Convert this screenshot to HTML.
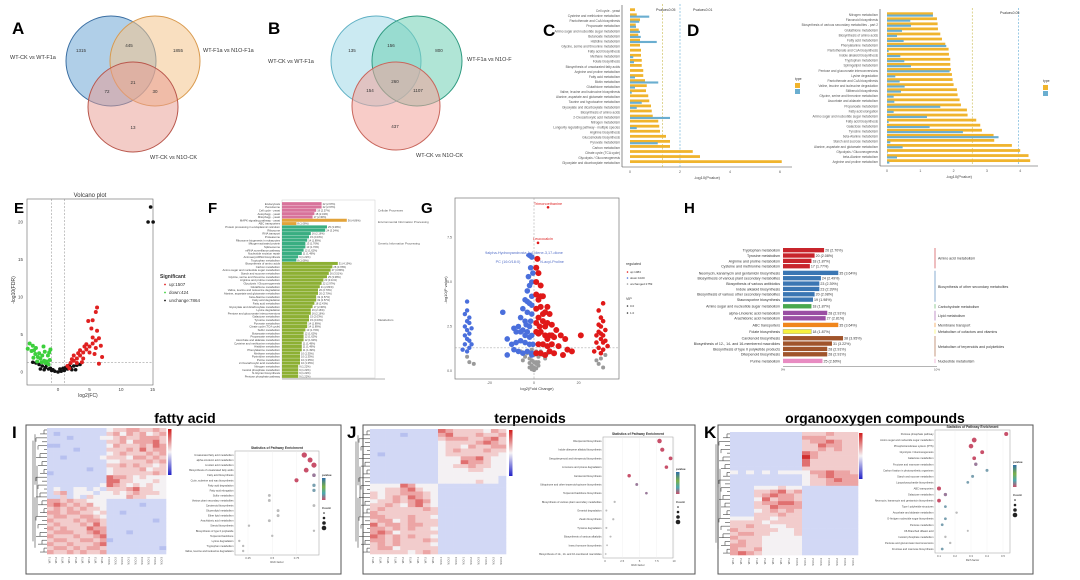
<!DOCTYPE html>
<html><head><meta charset="utf-8"><style>
html,body{margin:0;padding:0;background:#fff;width:1080px;height:580px;overflow:hidden}
svg{display:block;font-family:"Liberation Sans",sans-serif}
</style></head><body>
<svg id="fig" width="1080" height="580" viewBox="0 0 1080 580" xmlns="http://www.w3.org/2000/svg">
<!-- Venn A -->
<g>
<text x="12" y="34" font-size="17" font-weight="bold">A</text>
<circle cx="111" cy="61" r="45" fill="#6fa8d6" fill-opacity="0.55" stroke="#3b6fa3" stroke-width="1"/>
<circle cx="155" cy="61" r="45" fill="#f4c48c" fill-opacity="0.55" stroke="#d99a4e" stroke-width="1"/>
<circle cx="133" cy="107" r="45" fill="#e89a90" fill-opacity="0.5" stroke="#b9574c" stroke-width="1"/>
<g font-size="4.5" fill="#333" text-anchor="middle">
<text x="81" y="52">1315</text><text x="129" y="47">445</text><text x="178" y="52">1855</text>
<text x="133" y="84">21</text><text x="107" y="93">72</text><text x="155" y="93">30</text><text x="133" y="129">13</text></g>
<g font-size="5.5" fill="#333">
<text x="10" y="59">WT-CK vs WT-F1a</text><text x="203" y="52">WT-F1a vs N1O-F1a</text><text x="150" y="159">WT-CK vs N1O-CK</text></g>
</g>
<!-- Venn B -->
<g>
<text x="268" y="34" font-size="17" font-weight="bold">B</text>
<circle cx="376" cy="61" r="45" fill="#a9dcea" fill-opacity="0.6" stroke="#5fb0c4" stroke-width="1"/>
<circle cx="417" cy="61" r="45" fill="#6fcfb4" fill-opacity="0.55" stroke="#2f9a80" stroke-width="1"/>
<circle cx="396" cy="106" r="44" fill="#f2a39a" fill-opacity="0.55" stroke="#c8665c" stroke-width="1"/>
<g font-size="4.5" fill="#333" text-anchor="middle">
<text x="352" y="52">135</text><text x="391" y="47">156</text><text x="439" y="52">800</text>
<text x="395" y="83">260</text><text x="370" y="92">154</text><text x="418" y="92">1107</text><text x="395" y="128">437</text></g>
<g font-size="5.5" fill="#333">
<text x="268" y="63">WT-CK vs WT-F1a</text><text x="467" y="61">WT-F1a vs N1O-F</text><text x="416" y="157">WT-CK vs N1O-CK</text></g>
</g>
<text x="543" y="36" font-size="17" font-weight="bold">C</text>
<text x="687" y="36" font-size="17" font-weight="bold">D</text>
<text x="14" y="213" font-size="15" font-weight="bold">E</text>
<text x="208" y="213" font-size="15" font-weight="bold">F</text>
<text x="421" y="213" font-size="15" font-weight="bold">G</text>
<text x="684" y="213" font-size="15" font-weight="bold">H</text>
<text x="12" y="438" font-size="17" font-weight="bold">I</text>
<text x="347" y="438" font-size="17" font-weight="bold">J</text>
<text x="704" y="438" font-size="17" font-weight="bold">K</text>
<text x="185" y="423" font-size="14" font-weight="bold" text-anchor="middle">fatty acid</text>
<text x="530" y="423" font-size="14" font-weight="bold" text-anchor="middle">terpenoids</text>
<text x="875" y="423" font-size="14" font-weight="bold" text-anchor="middle">organooxygen compounds</text>
<rect x="26" y="425" width="315" height="149" fill="none" stroke="#555" stroke-width="1"/>
<rect x="363" y="425" width="332" height="149" fill="none" stroke="#555" stroke-width="1"/>
<rect x="718" y="425" width="315" height="149" fill="none" stroke="#555" stroke-width="1"/>
</svg>
<script>
const NS='http://www.w3.org/2000/svg';
const svg=document.getElementById('fig');
function el(tag,attrs,txt){const e=document.createElementNS(NS,tag);for(const k in attrs)e.setAttribute(k,attrs[k]);if(txt!==undefined)e.textContent=txt;svg.appendChild(e);return e;}

// ===== Panel C data =====
const cCats=["Cell cycle - yeast","Cysteine and methionine metabolism","Pantothenate and CoA biosynthesis","Propanoate metabolism","Amino sugar and nucleotide sugar metabolism","Butanoate metabolism","Histidine metabolism","Glycine, serine and threonine metabolism","Fatty acid biosynthesis","Methane metabolism","Folate biosynthesis","Biosynthesis of unsaturated fatty acids","Arginine and proline metabolism","Fatty acid metabolism","Biotin metabolism","Glutathione metabolism","Valine, leucine and isoleucine biosynthesis","Alanine, aspartate and glutamate metabolism","Taurine and hypotaurine metabolism","Glyoxylate and dicarboxylate metabolism","Biosynthesis of amino acids","2-Oxocarboxylic acid metabolism","Nitrogen metabolism","Longevity regulating pathway - multiple species","Arginine biosynthesis","Glucosinolate biosynthesis","Pyruvate metabolism","Carbon metabolism","Citrate cycle (TCA cycle)","Glycolysis / Gluconeogenesis","Glyoxylate and dicarboxylate metabolism"];
const cGene=[0.2,0.27,0.4,0.23,0.35,0.33,0.4,0.4,0.44,0.44,0.47,0.47,0.53,0.53,0.6,0.67,0.64,0.73,0.77,0.84,0.87,0.91,1.13,1.17,1.2,1.44,1.6,1.6,2.51,2.8,6.07];
const cMeta=[0,0.77,0.37,0.24,0.4,0.43,1.07,0,0,0.13,0.16,0,0,0.2,1.13,0.2,0.07,0,0.47,0.27,0,1.6,0,0.27,0,0,1.11,0,0,0,0];
const cTicks=[0,2,4,6];
const cThresh=[1.3,2];
// ===== Panel D data =====
const dCats=["Nitrogen metabolism","Flavonoid biosynthesis","Biosynthesis of various secondary metabolites - part 2","Glutathione metabolism","Biosynthesis of amino acids","Fatty acid metabolism","Phenylalanine metabolism","Pantothenate and CoA biosynthesis","Indole alkaloid biosynthesis","Tryptophan metabolism","Sphingolipid metabolism","Pentose and glucuronate interconversions","Lysine degradation","Pantothenate and CoA biosynthesis","Valine, leucine and isoleucine degradation","Stilbenoid biosynthesis","Glycine, serine and threonine metabolism","Ascorbate and aldarate metabolism","Propanoate metabolism","Fatty acid elongation","Amino sugar and nucleotide sugar metabolism","Fatty acid biosynthesis","Galactose metabolism","Tyrosine metabolism","beta-Alanine metabolism","Starch and sucrose metabolism","Alanine, aspartate and glutamate metabolism","Glycolysis / Gluconeogenesis","beta-Alanine metabolism","Arginine and proline metabolism"];
const dGene=[1.38,1.5,1.52,1.53,1.6,1.65,1.75,1.85,1.86,1.9,1.9,1.92,1.95,1.97,2.0,2.1,2.12,2.18,2.22,2.4,2.42,2.68,2.8,2.85,3.2,3.22,3.75,4.0,4.25,4.3];
const dMeta=[1.38,0.7,0.72,0.45,0.3,0.5,1.78,0.05,0.4,0.52,0.72,1.88,0.25,0.38,0.53,0.42,0.2,0.22,1.6,0.2,1.2,0.05,1.28,2.28,3.35,0.1,0.47,0.02,0.3,0.07];
const dTicks=[0,1,2,3,4];
const dThresh=[2.56,3.95];

function hbarPanel(p){
  const yax=el('line',{x1:p.axX,y1:p.top-3,x2:p.axX,y2:p.bottom+2,stroke:'#444','stroke-width':0.6});
  
  
  const xax=el('line',{x1:p.axX,y1:p.bottom+2,x2:p.right,y2:p.bottom+2,stroke:'#444','stroke-width':0.6});
  
  
  const n=p.cats.length, band=(p.bottom-p.top)/n;
  const sx=v=>p.x0+v*p.k;
  p.thresh.forEach((t,i)=>{
    const l=el('line',{x1:sx(t),y1:p.top-4,x2:sx(t),y2:p.bottom+2,stroke:i?'#5aa9d4':'#c8b84a','stroke-width':0.6,'stroke-dasharray':'2,1.5'});
    
    
  });
  p.cats.forEach((c,i)=>{
    const y=p.top+i*band;
    const g=el('rect',{x:p.x0,y:y+0.3,width:Math.max(0,p.gene[i]*p.k),height:band*0.55,fill:'#f0b42d'});
    
    
    const m=el('rect',{x:p.x0,y:y+band*0.5,width:Math.max(0,p.meta[i]*p.k),height:band*0.42,fill:'#6aaed0'});
    
    
    const t=el('text',{x:p.axX-2,y:y+band*0.8,'font-size':3.2,'text-anchor':'end',fill:'#555'},c);
    
    
  });
  p.ticks.forEach(v=>{
    const t=el('text',{x:sx(v),y:p.bottom+8,'font-size':3.5,'text-anchor':'middle',fill:'#555'},String(v));
    
    
  });
  const xt=el('text',{x:(p.axX+p.right)/2,y:p.bottom+14,'font-size':4,'text-anchor':'middle',fill:'#444'},'-log10(Pvalue)');
  
  
}
hbarPanel({id:'c',cats:cCats,gene:cGene,meta:cMeta,ticks:cTicks,thresh:cThresh,axX:622,x0:630,k:25,top:8,bottom:165,right:792});
hbarPanel({id:'d',cats:dCats,gene:dGene,meta:dMeta,ticks:dTicks,thresh:dThresh,axX:880,x0:887,k:33.3,top:12,bottom:164,right:1038});
[['Pvalue≤0.05',656,11],['Pvalue≤0.01',693,11],['Pvalue≤0.05',1000,14]].forEach(a=>{
  const t=el('text',{x:a[1],y:a[2],'font-size':3.5,fill:'#333'},a[0]);
  
  
});
[[795,80],[1043,82]].forEach(a=>{
  const t=el('text',{x:a[0],y:a[1],'font-size':3.5,fill:'#333'},'type');
  
  
  const r1=el('rect',{x:a[0],y:a[1]+3,width:5,height:5,fill:'#f0b42d'});
  
  
  const r2=el('rect',{x:a[0],y:a[1]+9,width:5,height:5,fill:'#6aaed0'});
  
  
});

// ===== Panel E volcano =====
const eGreenX=[-4.5,-4,-3.8,-3.5,-3,-3.2,-2.8,-2.5,-2.2,-2,-1.8,-1.5,-1.3,-4.2,-3.6,-2.6,-1.6,-2.3,-1.2,-3.9,-4.8,-3.3,-2.1,-1.4];
const eGreenY=[3.8,3.5,2.9,3.2,2.5,2,1.8,2.2,1.5,1.2,1.4,1,1.6,2.8,2.4,1.3,2.2,3.4,3,1.9,3.1,1.4,2.7,2.6];
const eRedX=[1.5,2,2.5,3,3.5,4,4.5,5,5.5,6,6.5,3,4,5,6,2.5,3.5,4.5,5.5,6.2,5.3,4.8,6,6.2,5.5,6.8,7,1.8,3.8,6.5,4.2,5.8,2.2,3.2];
const eRedY=[0.8,1.2,1.5,1.8,2.2,2.6,3,3.4,3.8,4.2,4.5,1.2,1.8,2.6,3.2,2.2,2.9,3.7,4.6,5.5,5.8,6.8,8,8.6,6.9,3.5,2,0.5,1.3,1.1,3.4,2.4,1.7,2.5];
const eGreyX=[-3,-2.5,-2,-1.5,-1,-0.5,0,0.5,1,1.5,2,2.5,3,-3.5,-2.2,-1.2,0.3,1.2,2.2,-0.8,0.8,-4,3.5,14.7,14.3,15.1,2.8,-2.8,-1.8,1.8];
const eGreyY=[1,0.8,0.6,0.4,0.2,0.1,0,0.1,0.2,0.4,0.6,0.8,0.9,1.2,0.3,0.5,0.4,0.6,0.3,0.3,0.5,1.3,1,22,20,20,0.3,0.4,0.9,0.9];
const eYTicks=[0,5,10,15,20];
const eXTicks=[0,5,10,15];
const ex=v=>58+6.3*v, ey=v=>372-7.5*v;
{
  const b=el('rect',{x:27,y:199,width:126,height:186,fill:'none',stroke:'#666','stroke-width':0.6});
  
  
  const tt=el('text',{x:90,y:197,'font-size':6,'text-anchor':'middle',fill:'#333'},'Volcano plot');
  
  
  [[ex(-1),199,ex(-1),385],[ex(1),199,ex(1),385],[27,ey(1.3),153,ey(1.3)]].forEach(a=>{
    const l=el('line',{x1:a[0],y1:a[1],x2:a[2],y2:a[3],stroke:'#888','stroke-width':0.5,'stroke-dasharray':'2,1.5'});
    
    
  });
  const pts=(X,Y,col,r,nm)=>X.forEach((x,i)=>{
    const c=el('circle',{cx:ex(x),cy:ey(Y[i]),r:r,fill:col});
    
    
  });
  pts(eGreyX,eGreyY,'#111',1.8,'e-point-unchanged');
  pts(eGreenX,eGreenY,'#3ccf3c',2.0,'e-point-down');
  pts(eRedX,eRedY,'#e02020',2.0,'e-point-up');
  eYTicks.forEach(v=>{
    const t=el('text',{x:23,y:ey(v)+1.5,'font-size':4.5,'text-anchor':'end',fill:'#444'},String(v));
    
    
  });
  eXTicks.forEach(v=>{
    const t=el('text',{x:ex(v),y:391,'font-size':4.5,'text-anchor':'middle',fill:'#444'},String(v));
    
    
  });
  const xt=el('text',{x:88,y:397,'font-size':5,'text-anchor':'middle',fill:'#333'},'log2(FC)');
  
  
  const yt=el('text',{x:15,y:290,'font-size':5,'text-anchor':'middle',fill:'#333',transform:'rotate(-90 15 290)'},'-log10(FDR)');
  
  
  const lg=el('text',{x:160,y:278,'font-size':5,'font-weight':'bold',fill:'#333'},'Significant');
  
  
  [['up:1507','#e02020',286],['down:424','#3ccf3c',294],['unchange:7864','#111',302]].forEach(a=>{
    const c=el('circle',{cx:165,cy:a[2]-1.5,r:0.9,fill:a[1]});
    
    
    const t=el('text',{x:169,y:a[2],'font-size':4.5,fill:'#333'},a[0]);
    
    
  });
}

// ===== Panel F =====
const fPink=[22,22,19,18,17];
const fOrange=[36,8];
const fTeal=[25,24,16,15,14,13,13,12,11,9,8];
const fGreen=[31,28,27,26,25,23,22,21,20,20,19,19,18,17,16,16,15,15,14,14,13,12,12,12,11,11,11,10,10,10,10,9,9,9,9];
const fNames=["Endocytosis","Peroxisome","Cell cycle - yeast","Autophagy - yeast","Mitophagy - yeast","MAPK signaling pathway - yeast","ABC transporters","Protein processing in endoplasmic reticulum","Ribosome","RNA transport","Proteasome","Ribosome biogenesis in eukaryotes","Mitogen-activated protein","Spliceosome","mRNA surveillance pathway","Nucleotide excision repair","Aminoacyl-tRNA biosynthesis","Tryptophan metabolism","Biosynthesis of amino acids","Carbon metabolism","Amino sugar and nucleotide sugar metabolism","Starch and sucrose metabolism","Glycine, serine and threonine metabolism","Arginine and proline metabolism","Glycolysis / Gluconeogenesis","Glutathione metabolism","Valine, leucine and isoleucine degradation","Alanine, aspartate and glutamate metabolism","beta-Alanine metabolism","Fatty acid degradation","Fatty acid metabolism","Glyoxylate and dicarboxylate metabolism","Lysine degradation","Pentose and glucuronate interconversions","Galactose metabolism","Tyrosine metabolism","Pyruvate metabolism","Citrate cycle (TCA cycle)","Sulfur metabolism","Butanoate metabolism","Propanoate metabolism","Ascorbate and aldarate metabolism","Cysteine and methionine metabolism","Histidine metabolism","Phenylalanine metabolism","Methane metabolism","Pyrimidine metabolism","Purine metabolism","2-Oxocarboxylic acid metabolism","Nitrogen metabolism","Inositol phosphate metabolism","N-Glycan biosynthesis","Pentose phosphate pathway"];
const fGroups=[["Cellular Processes",fPink,'#d8739b'],["Environmental Information Processing",fOrange,'#e2a33a'],["Genetic Information Processing",fTeal,'#3aae82'],["Metabolism",fGreen,'#8db034']];
{
  const x0=282,top=202,bottom=378,k=1.8;
  const total=fPink.length+fOrange.length+fTeal.length+fGreen.length;
  const band=(bottom-top)/total;
  const fr=el('rect',{x:x0,y:top-2,width:93,height:bottom-top+2,fill:'none',stroke:'#ccc','stroke-width':0.5});
  
  
  let row=0;
  fGroups.forEach(g=>{
    const start=row;
    g[1].forEach(v=>{
      const y=top+row*band;
      const r=el('rect',{x:x0,y:y+0.15,width:v*k,height:band-0.3,fill:g[2]});
      
      
      const t=el('text',{x:x0-2,y:y+band*0.85,'font-size':2.8,'text-anchor':'end',fill:'#444'},fNames[row]||'');
      
      
      const vl=el('text',{x:x0+v*k+1,y:y+band*0.85,'font-size':2.6,fill:'#444'},v+' ('+(v/7.4).toFixed(2)+'%)');
      
      
      row++;
    });
    const gl=el('text',{x:378,y:top+((start+row)/2)*band+1,'font-size':3,fill:'#555'},g[0]);
    
    
  });
  const ax=el('line',{x1:x0,y1:bottom+1,x2:385,y2:bottom+1,stroke:'#666','stroke-width':0.5});
  
  
}

// ===== Panel G volcano =====
const gBlueX=[-1,-2,-1.5,-1,-2.5,-1,-3,-2,-4,-1,-3,-5,-2,-4,-6,-1,-3,-5,-7,-8,-9,-2,-4,-6,-8,-10,-1,-3,-5,-7,-9,-12,-14,-12,-1,-2,-0.5,-1.5,-3.5,-0.5,-2,-4,-6,-1,-3];
const gBlueY=[6.4,6.5,5.8,5,5.3,4.2,4.5,3.8,4,3.2,3.3,3.5,2.5,2.8,3,2,2.2,2.3,2.5,2.2,2.4,1.5,1.6,1.7,1.6,1.5,1,1.1,1,1.1,1.2,1.8,3.3,0.9,0.9,4.8,5.5,2.8,2.6,1.5,1.9,2,2.2,3.7,3.9];
const gRedX=[1,2,1,3,1,2,4,1,3,5,7,2,4,6,8,10,1,3,5,7,9,12,14,2,4,6,8,11,1,3,5,7,9,13,17,21,1.5,2.5,6,15,3,5,2,4,1,6,8];
const gRedY=[5.8,5.5,5,4.8,4.3,4,4.2,3.5,3.6,3.3,3.2,3,2.8,2.7,2.6,2.3,2.2,2.2,2,2,1.9,2,1.8,1.5,1.5,1.4,1.5,1.4,1,1,0.9,1.1,1,0.9,1.1,2,6.3,2.5,3.6,1.2,4.2,2.5,2.1,3.2,2.7,1.8,2];
const gBlueFarX=[-31,-30,-29,-30,-30,-31,-29,-30,-28,-31,-29,-30,-32,-28,-29,-31,-30,-29];
const gBlueFarY=[2.5,2.8,3,3.4,3.9,2,2.1,1.8,1.5,1.5,1.3,1.1,1.2,2.4,2.7,3.2,2.3,1.7];
const gRedFarX=[29,30,31,30,29,31,30,28,32,29,31,30,28,32,30,31,33,27,29,31];
const gRedFarY=[3.4,3,2.8,2.5,2.2,2,1.8,1.6,1.7,1.3,1.2,1,2,2.3,2.1,3.8,1.4,1.1,2.6,1.6];
const gGreyX=[-1,0,1,2,-2,-3,3,0,-1,1,4,-4,0,2,-2,5,-5,6,-6,0,1,-1,-30,-29,-27,30,29,31,28,32,0,1,-1,2,-2];
const gGreyY=[0.3,0.2,0.5,0.8,0.7,1,1.1,0.1,0.6,0.4,0.9,0.8,0.5,0.3,0.2,0.7,0.6,1,1.1,0.9,1.1,1.2,0.8,0.5,0.4,0.7,0.4,0.2,0.6,0.9,0.05,0.15,0.1,0.5,0.45];
const gYTicks=[0,2.5,5,7.5];
const gXTicks=[-20,0,20];
const gx=v=>534+2.23*v, gy=v=>371-17.8*v;
{
  const b=el('rect',{x:455,y:198,width:164,height:181,fill:'none',stroke:'#777','stroke-width':0.7});
  
  
  [[gx(0),198,gx(0),379],[455,gy(1.3),619,gy(1.3)]].forEach(a=>{
    const l=el('line',{x1:a[0],y1:a[1],x2:a[2],y2:a[3],stroke:'#999','stroke-width':0.5,'stroke-dasharray':'2,1.5'});
    
    
  });
  const pts=(X,Y,col,r,nm)=>X.forEach((x,i)=>{
    const c=el('circle',{cx:gx(x),cy:gy(Y[i]),r:r,fill:col});
    
    
  });
  pts(gGreyX,gGreyY,'#9a9a9a',2.0,'g-point-unchanged');
  pts(gBlueX,gBlueY,'#4a6fdc',2.8,'g-point-down');
  pts(gBlueFarX,gBlueFarY,'#4a6fdc',2.2,'g-point-down');
  pts(gRedX,gRedY,'#e01818',3.0,'g-point-up');
  pts(gRedFarX,gRedFarY,'#e01818',2.3,'g-point-up');
  [[6.3,9.2,'#e01818'],[1.8,7.2,'#e01818'],[-3,6.5,'#4a6fdc']].forEach(a=>{
    const c=el('circle',{cx:gx(a[0]),cy:gy(a[1]),r:1.3,fill:a[2]});
    
    
  });
  [['Trimonoethanine',548,205,'#d22'],['Leucocalcin',543,240,'#d22'],['9alpha-Hydroxyandrosta-1,4-diene-3,17-dione',524,254,'#5570c8'],['PC (16:0/18:0)',508,263,'#5570c8'],['N-acyl-Proline',552,263,'#5570c8']].forEach(a=>{
    const t=el('text',{x:a[1],y:a[2],'font-size':3.8,'text-anchor':'middle',fill:a[3]},a[0]);
    
    
  });
  gYTicks.forEach(v=>{
    const t=el('text',{x:452,y:gy(v)+1,'font-size':3.5,'text-anchor':'end',fill:'#555'},v.toFixed(1));
    
    
  });
  gXTicks.forEach(v=>{
    const t=el('text',{x:gx(v),y:384,'font-size':3.5,'text-anchor':'middle',fill:'#555'},String(v));
    
    
  });
  const xt=el('text',{x:537,y:390,'font-size':4,'text-anchor':'middle',fill:'#333'},'log2(Fold Change)');
  
  
  const yt=el('text',{x:447,y:290,'font-size':4,'text-anchor':'middle',fill:'#333',transform:'rotate(-90 447 290)'},'-log10(P value)');
  
  
  [['regulated',626,265,0],['up:1084',630,273,'#e01818'],['down:1020',630,279,'#4a6fdc'],['unchanged:1759',630,285,'#9a9a9a'],['VIP',626,300,0],['0.0',630,307,'#333'],['1.0',630,314,'#333']].forEach(a=>{
    const t=el('text',{x:a[1],y:a[2],'font-size':a[3]?3:3.6,fill:'#333'},a[0]);
    
    
    if(a[3]){const c=el('circle',{cx:a[1]-2.5,cy:a[2]-1,r:0.8,fill:a[3]});
      
      }
  });
}

// ===== Panel H =====
const hNames=["Tryptophan metabolism","Tyrosine metabolism","Arginine and proline metabolism","Cysteine and methionine metabolism","Neomycin, kanamycin and gentamicin biosynthesis","Biosynthesis of various plant secondary metabolites","Biosynthesis of various antibiotics","Indole alkaloid biosynthesis","Biosynthesis of various other secondary metabolites","Staurosporine biosynthesis","Amino sugar and nucleotide sugar metabolism","alpha-Linolenic acid metabolism","Arachidonic acid metabolism","ABC transporters","Folate biosynthesis","Carotenoid biosynthesis","Biosynthesis of 12-, 14- and 16-membered macrolides","Biosynthesis of type II polyketide products","Diterpenoid biosynthesis","Purine metabolism"];
const hCounts=[26,20,18,17,35,24,23,23,20,19,18,28,27,35,18,38,31,28,28,25];
const hPct=["2.70%","2.08%","1.87%","1.77%","3.64%","2.49%","2.39%","2.39%","2.08%","1.98%","1.87%","2.91%","2.81%","3.64%","1.87%","3.95%","3.22%","2.91%","2.91%","2.60%"];
const hGroupNames=["Amino acid metabolism","Biosynthesis of other secondary metabolites","Carbohydrate metabolism","Lipid metabolism","Membrane transport","Metabolism of cofactors and vitamins","Metabolism of terpenoids and polyketides","Nucleotide metabolism"];
const hGroupSizes=[4,6,1,2,1,1,4,1];
const hColors=['#c8252c','#3a76b3','#4aa84e','#9a4ea3','#f0861c','#f7f23e','#a0542b','#e88cc2'];
{
  const x0=783,k=1.58,top=248,step=5.35,gap=1.3;
  let row=0,y=top;
  hGroupSizes.forEach((n,gi)=>{
    const y0=y;
    for(let j=0;j<n;j++){
      const r=el('rect',{x:x0,y:y,width:hCounts[row]*k,height:step-1,fill:hColors[gi],stroke:gi==5?'#999':'none','stroke-width':0.4});
      
      
      const t=el('text',{x:x0-3,y:y+step-1.8,'font-size':3.6,'text-anchor':'end',fill:'#333'},hNames[row]);
      
      
      const v=el('text',{x:x0+hCounts[row]*k+1,y:y+step-1.8,'font-size':3.6,fill:'#333'},hCounts[row]+' ('+hPct[row]+')');
      
      
      y+=step;row++;
    }
    const l=el('line',{x1:935,y1:y0,x2:935,y2:y-1,stroke:hColors[gi],'stroke-width':0.6});
    
    
    const g=el('text',{x:938,y:(y0+y)/2+1,'font-size':3.6,fill:'#333'},hGroupNames[gi]);
    
    
    y+=gap;
  });
  const ax=el('line',{x1:x0,y1:y+1,x2:937,y2:y+1,stroke:'#888','stroke-width':0.6});
  
  
  [['0%',x0],['10%',937]].forEach(a=>{
    const t=el('text',{x:a[1],y:y+5,'font-size':3,'text-anchor':'middle',fill:'#555'},a[0]);
    
    
  });
}

// ===== Heatmaps =====
const iRows=["333333333455665565","323333333564656456","333233334456556665","333333333556466675","223333333465556576","333323333555657566","333333333456555656","332333334555466565","333333333445555656","333333333556565545","333333233455556455","233333333455555565","333333333766545444","333333333775544454","333333334765454544","343344343555675544","356344434454565554","335343544444655444","665655444333333333","676565644333332333","565656554333333333","665665545332333333","566556654333333333","655565665333333323","565556575333333333","656555766333333333","566655676333233333","655565567333333333","566556656233333333","655655567333333333","566565665333333332","655656556333333333"];
const jRows=["333333333765555465","333323333675556556","333333333566655675","333333333455556765","333333333455465566","333333333456555655","323333333455555554","333333333444667544","333333333444766544","333333333445565544","333333333444455444","333333333444444444","333333333444444443","333333333444445443","444476444333333333","445567544333333333","545566654333333333","545657654333333333","455656764333333333","556546754333333333","565555565333333333","655555555333333333","665556554333333333","566456555333333333","756656655333333333","665656554333333333","676455555333333333","765656554333333333","665655565333333333","565655554333333333","566455555333333333","555554565333333333"];
const kRows=["3333333335556555","3333333336665555","3333333335667655","3333333335576655","3333333335565655","3333333337655555","3333333338655555","3333333337555555","3333333337555555","3333333335555555","4343434444667665","3333333334567666","3333333334556766","3333333334556666","3334445443333333","3335567563333333","3335676653333333","3334756653333333","3335667763333333","3335576663333333","3334565653333333","3335556553333333","4445545553333333","5555455553333333","5565544553333333","6555554453333333","5665544453333333","6555444443333333","5655444443333333","6655444443333333","6556444443333333","6765444443333333"];
const heatPalette=['#3a3ad0','#8593e4','#b7c0ef','#d2d8f5','#f4f1f3','#f2cccc','#eca5a5','#e07070','#d03030'];
function heatmap(id,rows,x0,y0,x1,y1,cbx){
  const nr=rows.length,nc=rows[0].length,cw=(x1-x0)/nc,rh=(y1-y0)/nr;
  rows.forEach((s,r)=>{for(let c=0;c<nc;c++){
    const e=el('rect',{x:x0+c*cw,y:y0+r*rh,width:cw+0.3,height:rh+0.3,fill:heatPalette[+s[c]]});
    
    
  }});
  // dendrogram
  for(let r=0;r<nr;r++){
    const d=3+((r*7)%5)*2;
    const yy=y0+(r+0.5)*rh;
    const l=el('line',{x1:x0-d,y1:yy,x2:x0,y2:yy,stroke:'#444','stroke-width':0.6});
    
    
    if(r%2==0&&r+1<nr){
      const v=el('line',{x1:x0-d,y1:yy,x2:x0-d,y2:yy+rh,stroke:'#444','stroke-width':0.6});
      
      
    }
  }
  [[14,0.1,0.9],[12,0.05,0.45],[12,0.55,0.95],[10,0.3,0.7]].forEach(a=>{
    const dv=el('line',{x1:x0-a[0],y1:y0+(y1-y0)*a[1],x2:x0-a[0],y2:y0+(y1-y0)*a[2],stroke:'#444','stroke-width':0.6});
    
    
  });
  for(let c=0;c<nc;c++){
    const tx=x0+(c+0.5)*cw;
    const t=el('text',{x:tx,y:y1+3,'font-size':2.6,fill:'#444','text-anchor':'end',transform:'rotate(-90 '+tx+' '+(y1+3)+')'},(c<nc/2?'WT':'N1O')+'-'+(c%3+1));
    
    
  }
  const gid=id+'grad';
  const defs=el('defs',{});
  defs.innerHTML='<linearGradient id="'+gid+'" x1="0" y1="0" x2="0" y2="1"><stop offset="0" stop-color="#d01c1c"/><stop offset="0.5" stop-color="#f5f3f5"/><stop offset="1" stop-color="#2323c8"/></linearGradient>';
  const cb=el('rect',{x:cbx,y:y0+1,width:3.5,height:46,fill:'url(#'+gid+')'});
  
  
}
heatmap('i',iRows,47,428,166,554,168);
heatmap('j',jRows,370,429,506,554,509);
heatmap('k',kRows,730,432,858,555,859);

// ===== Dot plots =====
const iPath=["Unsaturated fatty acid metabolism","alpha-Linolenic acid metabolism","Linoleic acid metabolism","Biosynthesis of unsaturated fatty acids","Fatty acid biosynthesis","Cutin, suberine and wax biosynthesis","Fatty acid degradation","Fatty acid elongation","Sulfur metabolism","Various plant secondary metabolites","Carotenoid biosynthesis","Glycerolipid metabolism","Ether lipid metabolism","Arachidonic acid metabolism","Steroid biosynthesis","Biosynthesis of type II polyketide","Terpenoid backbone","Lysine degradation","Tryptophan metabolism","Valine, leucine and isoleucine degradation"];
const iRich=[0.83,0.89,0.93,0.85,0.93,0.75,0.93,0.93,0.47,0.47,0.93,0.56,0.56,0.47,0.26,0.93,0.5,0.16,0.2,0.2];
const iCount=[12,10,11,9,4,6,3,3,2,2,2,2,2,2,1,1,1,1,1,1];
const iP=[0.01,0.01,0.02,0.01,0.3,0.05,0.6,0.6,0.8,0.8,0.9,0.9,0.9,0.9,1,1,1,1,1,1];
const jPath=["Diterpenoid biosynthesis","Indole diterpene alkaloid biosynthesis","Sesquiterpenoid and triterpenoid biosynthesis","Limonene and pinene degradation","Carotenoid biosynthesis","Ubiquinone and other terpenoid-quinone biosynthesis","Terpenoid backbone biosynthesis","Biosynthesis of various plant secondary metabolites","Geraniol degradation","Zeatin biosynthesis","Tyrosine degradation","Biosynthesis of various alkaloids","Insect hormone biosynthesis","Biosynthesis of 12-, 14- and 16-membered macrolides"];
const jRich=[7.9,8.3,9.5,8.9,3.5,4.6,6.0,1.4,0.2,1.2,0.2,0.8,0.3,0.1];
const jCount=[30,25,18,15,14,8,6,3,2,3,2,2,1,1];
const jP=[0.02,0.03,0.05,0.05,0.03,0.3,0.2,0.7,1,0.8,1,0.9,1,1];
const kPath=["Pentose phosphate pathway","Amino sugar and nucleotide sugar metabolism","Phosphotransferase system (PTS)","Glycolysis / Gluconeogenesis","Galactose metabolism","Fructose and mannose metabolism","Carbon fixation in photosynthetic organisms","Starch and sucrose metabolism","Lipopolysaccharide biosynthesis","ABC transporters","Galactose metabolism","Neomycin, kanamycin and gentamicin biosynthesis","Type I polyketide structures","Ascorbate and aldarate metabolism","O-Antigen nucleotide sugar biosynthesis","Pentose metabolism","C5-Branched dibasic acid","Inositol phosphate metabolism","Pentose and glucuronate interconversions","Fructose and mannose biosynthesis"];
const kRich=[0.52,0.32,0.3,0.37,0.32,0.33,0.4,0.31,0.28,0.1,0.14,0.1,0.14,0.21,0.14,0.12,0.28,0.14,0.17,0.12];
const kCount=[10,16,14,9,8,6,4,4,3,10,6,8,3,2,3,3,1,2,2,3];
const kP=[0.01,0.02,0.02,0.05,0.05,0.1,0.4,0.4,0.6,0.02,0.1,0.02,0.5,0.7,0.5,0.6,1,0.7,0.8,0.6];
const iTicks=[0.25,0.5,0.75];
const jTicks=[0,2.5,5,7.5,10];
const kTicks=[0.1,0.2,0.3,0.4,0.5];
function pcol(p){return p<0.1?'#c8506a':p<0.4?'#9a7a9a':p<0.7?'#7aa0b0':'#bbb';}
function dotplot(o){
  const fr=el('rect',{x:o.bx,y:o.by,width:o.bw,height:o.bh,fill:'#fff',stroke:'#aaa','stroke-width':0.6});
  
  
  const tt=el('text',{x:o.bx+o.bw/2,y:o.by-2,'font-size':3.3,'font-weight':'bold','text-anchor':'middle',fill:'#333'},'Statistics of Pathway Enrichment');
  
  
  const n=o.path.length,step=(o.bh-8)/(n-1);
  const sx=v=>o.x0+(v-o.t0)*o.k;
  o.ticks.forEach(v=>{
    const gl=el('line',{x1:sx(v),y1:o.by,x2:sx(v),y2:o.by+o.bh,stroke:'#eee','stroke-width':0.4});
    
    
    const t=el('text',{x:sx(v),y:o.by+o.bh+4,'font-size':2.8,'text-anchor':'middle',fill:'#555'},String(v));
    
    
  });
  o.path.forEach((p,i)=>{
    const y=o.by+4+i*step;
    const t=el('text',{x:o.bx-1.5,y:y+1,'font-size':2.6,'text-anchor':'end',fill:'#444'},p);
    
    
    const c=el('circle',{cx:sx(o.rich[i]),cy:y,r:0.6+Math.sqrt(o.count[i])*o.rs,fill:pcol(o.p[i])});
    
    
  });
  const xt=el('text',{x:o.bx+o.bw/2,y:o.by+o.bh+8,'font-size':2.8,'text-anchor':'middle',fill:'#444'},'Rich factor');
  
  
  const lx=o.bx+o.bw+3;
  const defs=el('defs',{});
  defs.innerHTML='<linearGradient id="'+o.id+'pg" x1="0" y1="0" x2="0" y2="1"><stop offset="0" stop-color="#2f6fa8"/><stop offset="0.4" stop-color="#7ab04a"/><stop offset="0.7" stop-color="#4aa8b0"/><stop offset="1" stop-color="#c8506a"/></linearGradient>';
  const pt=el('text',{x:lx,y:o.ly,'font-size':3,'font-weight':'bold',fill:'#333'},'pvalue');
  
  
  const pb=el('rect',{x:lx,y:o.ly+2,width:3.5,height:22,fill:'url(#'+o.id+'pg)'});
  
  
  const ct=el('text',{x:lx,y:o.ly+33,'font-size':3,'font-weight':'bold',fill:'#333'},'Count');
  
  
  for(let q=0;q<4;q++){
    const c=el('circle',{cx:lx+2,cy:o.ly+37+q*5,r:0.8+q*0.5,fill:'#222'});
    
    
  }
}
dotplot({id:'i',path:iPath,rich:iRich,count:iCount,p:iP,ticks:iTicks,bx:235,by:451,bw:84,bh:104,x0:248,t0:0.25,k:97,rs:0.6,ly:476});
dotplot({id:'j',path:jPath,rich:jRich,count:jCount,p:jP,ticks:jTicks,bx:603,by:437,bw:70,bh:121,x0:605,t0:0,k:6.9,rs:0.3,ly:470});
dotplot({id:'k',path:kPath,rich:kRich,count:kCount,p:kP,ticks:kTicks,bx:935,by:430,bw:75,bh:123,x0:939,t0:0.1,k:160,rs:0.45,ly:463});
</script>
</body></html>
